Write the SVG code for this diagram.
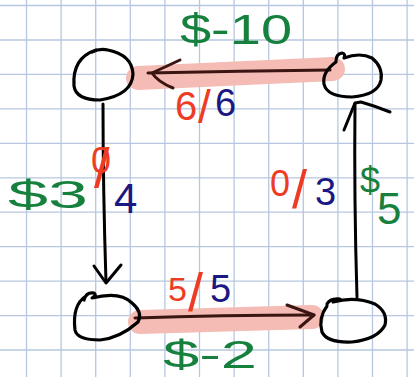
<svg xmlns="http://www.w3.org/2000/svg" width="414" height="377" viewBox="0 0 414 377">
<style>
.grid line{stroke:#b6c7df;stroke-width:1.3}
.ink{fill:none;stroke:#000;stroke-width:3.2;stroke-linecap:round;stroke-linejoin:round}
.edge{fill:none;stroke:#3a1512;stroke-width:3;stroke-linecap:round;stroke-linejoin:round}
.arrowk{fill:none;stroke:#000;stroke-width:3;stroke-linecap:round;stroke-linejoin:round}
.hl{fill:none;stroke:#f4bcb5;stroke-width:24;stroke-linecap:round}
text{font-family:"Liberation Sans",Arial,sans-serif}
.g{fill:#16803d}
.r{fill:#ee3b24}
.b{fill:#1b1883}
</style>
<rect width="414" height="377" fill="#fff"/>
<g class="grid">
<line x1="26.5" y1="0" x2="26.5" y2="377"/>
<line x1="61.1" y1="0" x2="61.1" y2="377"/>
<line x1="95.7" y1="0" x2="95.7" y2="377"/>
<line x1="130.3" y1="0" x2="130.3" y2="377"/>
<line x1="164.9" y1="0" x2="164.9" y2="377"/>
<line x1="199.5" y1="0" x2="199.5" y2="377"/>
<line x1="234.1" y1="0" x2="234.1" y2="377"/>
<line x1="268.7" y1="0" x2="268.7" y2="377"/>
<line x1="303.3" y1="0" x2="303.3" y2="377"/>
<line x1="337.9" y1="0" x2="337.9" y2="377"/>
<line x1="372.5" y1="0" x2="372.5" y2="377"/>
<line x1="407.1" y1="0" x2="407.1" y2="377"/>
<line x1="0" y1="5.5" x2="414" y2="5.5"/>
<line x1="0" y1="40" x2="414" y2="40"/>
<line x1="0" y1="74.4" x2="414" y2="74.4"/>
<line x1="0" y1="108.9" x2="414" y2="108.9"/>
<line x1="0" y1="143.3" x2="414" y2="143.3"/>
<line x1="0" y1="177.8" x2="414" y2="177.8"/>
<line x1="0" y1="212.2" x2="414" y2="212.2"/>
<line x1="0" y1="246.7" x2="414" y2="246.7"/>
<line x1="0" y1="281.1" x2="414" y2="281.1"/>
<line x1="0" y1="315.6" x2="414" y2="315.6"/>
<line x1="0" y1="350" x2="414" y2="350"/>
</g>
<g id="connectors">
<g id="edge-top">
<path class="hl" d="M138,78 L333,69"/>
<path class="edge" d="M330,70 Q240,71 148,73"/>
<path class="edge" d="M180,60 L152,73 Q158,82 173,88"/>
<text x="180" y="44" font-size="42" class="g" textLength="112" lengthAdjust="spacingAndGlyphs">$-10</text>
<text x="175" y="120" font-size="40" class="r">6<tspan x="198" y="123" font-size="46">/</tspan><tspan x="215" y="116" font-size="38" class="b">6</tspan></text>
</g>
<g id="edge-left">
<path class="arrowk" d="M103,104 Q103,190 106,282"/>
<path class="arrowk" d="M94,266 L106,283 L121,265"/>
<text x="8" y="208" font-size="38" class="g" textLength="80" lengthAdjust="spacingAndGlyphs">$3</text>
<text x="91" y="173" font-size="36" class="r">0<tspan x="94" y="187" font-size="56">/</tspan><tspan x="114" y="213" font-size="42" class="b">4</tspan></text>
</g>
<g id="edge-right">
<path class="arrowk" d="M357,297 Q354,200 355,104"/>
<path class="arrowk" d="M344,130 L355,103 L361,102 Q375,106 390,112"/>
<text x="270" y="196" font-size="36" class="r">0<tspan x="292" y="208" font-size="54">/</tspan><tspan x="315" y="205" font-size="38" class="b">3</tspan></text>
<text x="360" y="193" font-size="36" class="g">$<tspan x="377" y="224" font-size="44">5</tspan></text>
</g>
<g id="edge-bottom">
<path class="hl" d="M140,322 L312,317"/>
<path class="edge" d="M135,318 Q220,315 314,315"/>
<path class="edge" d="M287,305 L314,315 L300,327"/>
<text x="168" y="301" font-size="34" class="r">5<tspan x="188" y="311" font-size="54">/</tspan><tspan x="210" y="302" font-size="38" class="b">5</tspan></text>
<text x="163" y="368" font-size="38" class="g" textLength="94" lengthAdjust="spacingAndGlyphs">$-2</text>
</g>
</g>
<g id="node-tl">
<path class="ink" d="M92,52 Q100,48 108,50 Q132,55 133,74 Q132,95 100,100 Q76,100 74,86 Q72,58 96,50"/>
</g>
<g id="node-tr">
<path class="ink" d="M336,61 Q336,54 342,53 Q346,54 344,58 Q360,52 372,58 Q383,67 381,80 Q378,95 352,97 Q327,97 324,84 Q322,72 336,62"/>
</g>
<g id="node-bl">
<path class="ink" d="M84,300 Q86,292 94,293 Q97,295 92,298 Q120,291 132,303 Q143,312 138,322 Q120,338 100,340 Q77,340 75,330 Q72,305 86,296"/>
</g>
<g id="node-br">
<path class="ink" d="M327,304 Q330,298 340,299 Q336,301 333,302 Q355,296 375,304 Q388,312 385,325 Q378,339 352,342 Q327,343 322,332 Q318,318 327,306"/>
</g>
</svg>
